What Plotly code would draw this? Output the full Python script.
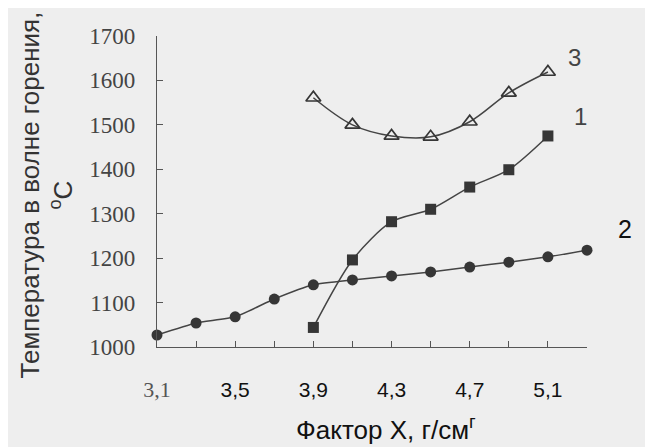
import plotly.graph_objects as go

# Data
x_all = [3.1, 3.3, 3.5, 3.7, 3.9, 4.1, 4.3, 4.5, 4.7, 4.9, 5.1, 5.3]
series2_y = [1027, 1054, 1068, 1108, 1140, 1151, 1160, 1169, 1180, 1191, 1203, 1218]

x_13 = [3.9, 4.1, 4.3, 4.5, 4.7, 4.9, 5.1]
series1_y = [1044, 1196, 1282, 1310, 1360, 1399, 1475]
series3_y = [1561, 1500, 1475, 1473, 1507, 1572, 1619]

x_tickvals = [3.1, 3.5, 3.9, 4.3, 4.7, 5.1]
x_ticktext = ['3,1', '3,5', '3,9', '4,3', '4,7', '5,1']
y_tickvals = [1000, 1100, 1200, 1300, 1400, 1500, 1600, 1700]

SERIF = "Liberation Serif, Times New Roman, serif"
SANS = "Liberation Sans, Arial, sans-serif"
LINE = "#444444"
MARK = "#363636"

fig = go.Figure()

fig.add_trace(go.Scatter(
    x=x_13, y=series3_y, mode="lines+markers",
    line=dict(color=LINE, width=1.5, shape="spline", smoothing=1.0),
    marker=dict(symbol="triangle-up-open", size=13, color=MARK, line=dict(width=1.7, color=MARK)),
    cliponaxis=False, showlegend=False))

fig.add_trace(go.Scatter(
    x=x_13, y=series1_y, mode="lines+markers",
    line=dict(color=LINE, width=1.5, shape="spline", smoothing=0.8),
    marker=dict(symbol="square", size=11, color=MARK),
    cliponaxis=False, showlegend=False))

fig.add_trace(go.Scatter(
    x=x_all, y=series2_y, mode="lines+markers",
    line=dict(color=LINE, width=1.5, shape="spline", smoothing=0.5),
    marker=dict(symbol="circle", size=11, color=MARK),
    cliponaxis=False, showlegend=False))

ticktext_styled = []
for t in x_ticktext:
    if t == '3,1':
        ticktext_styled.append('<span style="font-family:Liberation Serif;font-size:22px;fill:#555">%s</span>' % t)
    else:
        ticktext_styled.append(t)

fig.update_layout(
    width=653, height=447,
    margin=dict(l=149, r=74, t=28, b=108),
    paper_bgcolor="#eeeeee", plot_bgcolor="#eeeeee",
    xaxis=dict(
        range=[3.1, 5.3], tickvals=x_tickvals, ticktext=ticktext_styled,
        automargin=False,
        showgrid=False, zeroline=False, showline=True, linecolor="#555", linewidth=1.2,
        ticks="inside", ticklen=6, tickcolor="#555",
        minor=dict(tick0=3.1, dtick=0.2, ticks="inside", ticklen=6, tickcolor="#555", showgrid=False),
        tickfont=dict(family=SANS, size=21, color="#111"),
        ticklabelstandoff=24,
    ),
    yaxis=dict(
        range=[1000, 1700], tickvals=y_tickvals,
        automargin=False,
        showgrid=False, zeroline=False, showline=True, linecolor="#555", linewidth=1.2,
        ticks="inside", ticklen=6, tickcolor="#555",
        tickfont=dict(family=SERIF, size=23, color="#444"),
        ticklabelstandoff=16,
    ),
    annotations=[
        dict(text="Температура в волне горения,<br><sup>o</sup>C", xref="paper", yref="paper",
             x=0, y=0.5, xanchor="center", yanchor="middle", xshift=-111, yshift=-4, textangle=-90,
             showarrow=False, font=dict(family=SANS, size=26, color="#333")),
        dict(text="Фактор X, г/см<sup>г</sup>", xref="paper", yref="paper",
             x=0.5, y=0, xanchor="center", yanchor="middle", xshift=14, yshift=-81,
             showarrow=False, font=dict(family=SANS, size=26, color="#111")),
        dict(text="3", x=0.972, y=0.932, xref="paper", yref="paper", showarrow=False,
             xanchor="center", yanchor="middle",
             font=dict(family=SANS, size=24, color="#444")),
        dict(text="1", x=0.985, y=0.740, xref="paper", yref="paper", showarrow=False,
             xanchor="center", yanchor="middle",
             font=dict(family=SANS, size=24, color="#444")),
        dict(text="2", x=1.088, y=0.379, xref="paper", yref="paper", showarrow=False,
             xanchor="center", yanchor="middle",
             font=dict(family=SANS, size=25, color="#111")),
    ],
)

fig.write_html("out.html")
